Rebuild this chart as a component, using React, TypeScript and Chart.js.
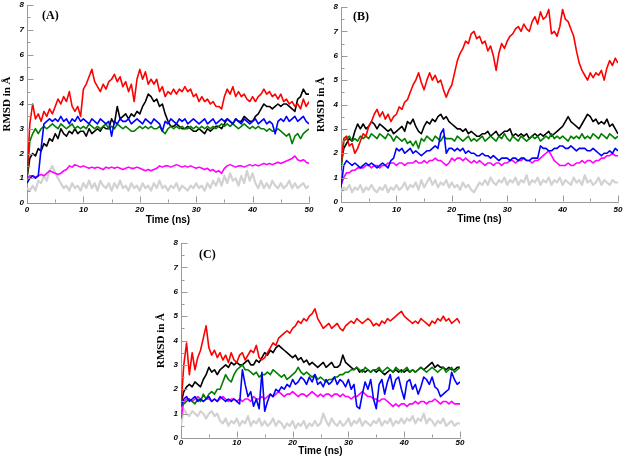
import React, { useEffect, useRef } from 'react';
import { Chart, registerables } from 'chart.js';

Chart.register(...registerables);

// Sampling grid (ns)
const TIME_NS = [
  0, 0.5, 1, 1.5, 2, 2.5, 3, 3.5, 4, 4.5,
  5, 5.5, 6, 6.5, 7, 7.5, 8, 8.5, 9, 9.5,
  10, 10.5, 11, 11.5, 12, 12.5, 13, 13.5, 14, 14.5,
  15, 15.5, 16, 16.5, 17, 17.5, 18, 18.5, 19, 19.5,
  20, 20.5, 21, 21.5, 22, 22.5, 23, 23.5, 24, 24.5,
  25, 25.5, 26, 26.5, 27, 27.5, 28, 28.5, 29, 29.5,
  30, 30.5, 31, 31.5, 32, 32.5, 33, 33.5, 34, 34.5,
  35, 35.5, 36, 36.5, 37, 37.5, 38, 38.5, 39, 39.5,
  40, 40.5, 41, 41.5, 42, 42.5, 43, 43.5, 44, 44.5,
  45, 45.5, 46, 46.5, 47, 47.5, 48, 48.5, 49, 49.5,
  50,
];

const X_MAJOR = [0, 10, 20, 30, 40, 50];
const X_MINOR = [5, 15, 25, 35, 45];
const Y_MAJOR = [0, 1, 2, 3, 4, 5, 6, 7, 8];
const Y_MINOR = [0.5, 1.5, 2.5, 3.5, 4.5, 5.5, 6.5, 7.5];

// ---------- Panel A ----------
const A_RED = [
  1.0, 3.2, 4.0, 3.4, 3.6, 3.3, 3.7, 3.5, 3.8, 3.6,
  3.9, 4.2, 4.0, 4.3, 4.1, 4.5, 3.9, 3.7, 3.9, 3.5,
  4.6, 4.8, 5.1, 5.4, 4.9, 4.7, 4.5, 4.8, 4.6, 4.9,
  5.0, 5.2, 4.9, 5.1, 4.7, 4.9, 4.5, 4.8, 4.1, 5.0,
  5.4, 5.0, 5.3, 4.8, 5.0, 4.8, 5.0, 4.5, 4.7, 4.3,
  4.5, 4.4, 4.6, 4.4, 4.6, 4.5, 4.7, 4.5, 4.6, 4.3,
  4.4, 4.1, 4.3, 4.1, 4.2, 4.0, 4.1, 3.9, 3.9, 3.8,
  4.3, 4.6, 4.4, 4.7, 4.3, 4.5, 4.3, 4.4, 4.2, 4.1,
  4.3, 4.1, 4.3, 4.4, 4.6, 4.4, 4.5, 4.3, 4.4, 4.2,
  4.4, 4.1, 4.2, 4.0, 4.1, 3.9, 4.0, 3.8, 4.2, 3.9,
  4.1,
];
const A_BLACK = [
  1.0, 1.8, 2.0, 1.9, 2.2, 2.1, 2.4, 2.3, 2.6, 2.5,
  2.8, 2.6, 3.0, 2.8, 2.7, 2.9, 2.8, 3.0, 2.8, 2.9,
  2.9, 2.7, 3.0, 2.8, 2.9, 3.0, 2.9, 3.1, 3.0, 3.0,
  3.4, 3.2, 3.9, 3.4, 3.5, 3.6, 3.4, 3.6, 3.5, 3.7,
  3.6, 3.9, 4.1, 4.4, 4.3, 4.1, 4.2, 3.9, 4.0, 3.6,
  3.3, 3.1, 3.1, 3.2, 3.1, 3.0, 3.0, 3.1, 3.0, 2.9,
  2.9, 3.0, 2.9, 2.8, 3.0, 2.9, 3.0, 3.1, 3.1, 3.0,
  3.2, 3.4, 3.3, 3.2, 3.4, 3.3, 3.3, 3.5, 3.4, 3.3,
  3.3, 3.5, 3.6, 3.8, 4.0, 3.9, 3.9, 3.8, 3.9, 4.0,
  3.9, 4.0, 4.0, 3.9, 3.8, 3.7, 4.2, 4.3, 4.6, 4.4,
  4.4,
];
const A_BLUE = [
  0.8, 1.0, 1.1, 1.0, 1.1, 2.2, 3.2, 3.3, 3.4, 3.3,
  3.4, 3.3, 3.5, 3.3, 3.4, 3.2, 3.4, 3.3, 3.5, 3.3,
  3.4, 3.3, 3.2, 3.4, 3.3, 3.2, 3.4, 3.3, 3.2, 3.3,
  2.7, 3.3, 3.2, 3.4, 3.3, 3.3, 3.4, 3.2, 3.3, 3.4,
  3.3, 3.2, 3.4, 3.3, 3.2, 3.4, 3.3, 3.2, 2.9, 3.3,
  3.2, 3.4, 3.3, 3.2, 3.4, 3.3, 3.4, 3.2, 3.3, 3.4,
  3.3, 3.2, 3.3, 3.4, 3.2, 3.3, 3.4, 3.2, 3.3, 3.4,
  3.3, 3.4, 3.3, 3.2, 3.4, 3.3, 3.2, 3.4, 3.3, 3.2,
  3.3, 3.4, 3.2, 3.3, 3.4, 3.2, 3.3, 3.2, 2.8, 3.3,
  3.4, 3.3, 3.5, 3.3, 3.4, 3.5, 3.3, 3.4, 3.5, 3.3,
  3.2,
];
const A_GREEN = [
  1.0, 2.5, 2.8, 3.0, 2.8, 3.0, 3.1, 3.0, 3.1, 3.2,
  3.1, 3.0, 3.2, 3.1, 3.0, 3.1, 3.2, 3.0, 3.1, 3.0,
  3.1, 3.0, 3.2, 3.1, 3.0, 3.1, 3.0, 3.1, 3.2, 3.0,
  3.1, 3.0, 3.2, 3.1, 3.0, 3.1, 3.0, 2.9, 2.9, 3.0,
  3.1, 3.0, 3.1, 3.0, 3.1, 3.0, 3.0, 3.1, 2.9, 2.8,
  3.0, 3.1, 3.0, 3.1, 3.0, 3.1, 3.0, 3.0, 3.1, 3.0,
  3.1, 3.0, 3.1, 3.0, 3.1, 3.0, 3.1, 3.0, 3.1, 3.2,
  3.1, 3.2, 3.1, 3.2, 3.1, 3.0, 3.1, 3.2, 3.1, 3.0,
  3.1, 3.0, 3.1, 3.0, 3.0, 2.9, 3.0, 2.9, 2.9, 3.0,
  2.9, 2.8, 2.7, 2.8, 2.4, 2.7, 2.8, 2.6, 2.8, 2.9,
  3.0,
];
const A_MAGENTA = [
  1.0, 1.1, 1.1, 1.05, 1.1, 1.15, 1.1, 1.2, 1.3, 1.25,
  1.2, 1.15, 1.2, 1.3, 1.35, 1.5, 1.45, 1.55, 1.5, 1.45,
  1.5, 1.45, 1.4, 1.45, 1.4, 1.45, 1.4, 1.35, 1.45, 1.4,
  1.45, 1.4, 1.45, 1.4, 1.35, 1.4, 1.45, 1.4, 1.4, 1.45,
  1.4, 1.35, 1.3, 1.35, 1.3, 1.35, 1.4, 1.5, 1.45, 1.5,
  1.5, 1.45, 1.5, 1.55, 1.5, 1.45, 1.5, 1.45, 1.5, 1.45,
  1.4, 1.45, 1.4, 1.35, 1.4, 1.3, 1.35, 1.25, 1.3, 1.2,
  1.4, 1.5, 1.55, 1.5, 1.45, 1.5, 1.5, 1.45, 1.5, 1.55,
  1.5, 1.55, 1.5, 1.55, 1.6, 1.55, 1.6, 1.55, 1.6, 1.65,
  1.6, 1.65, 1.7, 1.75, 1.8, 1.9, 1.75, 1.7, 1.75, 1.65,
  1.6,
];
const A_GREY = [
  0.6, 0.5, 0.7, 0.5, 0.9, 0.8, 1.1, 0.9, 1.3, 1.5,
  1.2, 1.0, 0.8, 0.6, 0.7, 0.5, 0.8, 0.6, 0.7, 0.5,
  0.8, 0.6, 0.9, 0.6, 0.8, 0.5, 0.9, 0.7, 0.6, 0.8,
  0.5, 0.8, 0.6, 0.9, 0.6, 0.7, 0.5, 0.8, 0.6, 0.7,
  0.5, 0.8, 0.6, 0.7, 0.5, 0.8, 0.6, 0.9, 0.6, 0.7,
  0.5, 0.7, 0.6, 0.8, 0.5, 0.7, 0.6, 0.5, 0.7, 0.6,
  0.8, 0.6, 0.7, 0.5, 0.8, 0.6, 0.9, 0.7, 1.0, 0.7,
  1.1, 0.8, 1.2, 0.9, 1.0, 0.7, 1.1, 0.8, 1.3, 0.9,
  1.2, 0.8, 0.6, 0.9, 0.6, 0.8, 0.6, 0.9, 0.7, 0.6,
  0.8, 0.6, 0.7, 0.9, 0.6, 0.8, 0.6, 0.7, 0.8, 0.6,
  0.7,
];

// ---------- Panel B ----------
const B_RED = [
  1.5, 2.6, 2.7, 2.3, 2.4, 2.0, 2.2, 2.5, 2.8, 2.7,
  3.1, 3.3, 3.6, 3.8, 3.5, 3.7, 3.4, 3.6, 3.3, 3.5,
  3.6, 3.9, 3.8, 4.1, 4.2, 4.5, 4.8, 5.0, 5.3, 4.9,
  4.6, 5.0, 5.3, 5.0, 5.2, 4.9, 5.0, 4.6, 4.3, 4.6,
  4.8, 5.3, 5.8, 6.1, 6.3, 6.6, 6.5, 6.9, 7.0, 6.7,
  6.8, 6.5, 6.6, 6.2, 6.4, 6.0, 5.4, 6.1, 6.5, 6.3,
  6.6, 6.8, 6.9, 7.1, 7.2, 7.0, 7.3, 7.1, 7.0, 7.4,
  7.6, 7.3, 7.8, 7.5, 7.6, 7.9, 6.9, 7.0, 6.8, 7.2,
  7.9, 7.5, 7.4, 7.1, 6.8, 6.2, 5.7, 5.4, 5.2, 5.0,
  5.3, 5.1, 5.3, 5.2, 5.4, 5.0, 5.5, 5.8, 5.6, 5.9,
  5.7,
];
const B_BLACK = [
  1.5, 2.2, 2.4, 2.6, 2.5, 2.9, 3.2, 3.0, 3.2, 3.0,
  3.1, 3.3, 3.2, 3.0, 3.2, 3.1, 3.0, 2.9, 3.0, 2.8,
  2.9, 3.0, 3.1, 2.9, 3.3, 3.2, 3.4, 3.1, 2.9, 2.8,
  3.1, 3.3, 3.2, 3.4, 3.3, 3.5, 3.6, 3.4, 3.5, 3.3,
  3.2, 3.1, 3.0, 3.0, 2.9, 3.0, 2.8, 2.9, 2.8, 2.7,
  2.7, 2.8, 2.8, 2.9, 2.7, 2.8, 2.9, 2.7, 2.8, 2.9,
  2.9, 3.0, 2.7, 2.8, 2.7, 2.8, 2.7, 2.8, 2.6, 2.7,
  2.8, 2.7, 2.8, 2.7, 2.8, 2.9, 2.7, 2.8, 2.9, 3.0,
  3.1, 3.3, 3.5, 3.3, 3.2, 3.1, 3.0, 3.2, 3.4, 3.6,
  3.5, 3.3, 3.4, 3.2, 3.3, 3.2, 3.4, 3.1, 3.2, 3.0,
  2.8,
];
const B_BLUE = [
  0.6, 1.5, 1.7, 1.6, 1.5, 1.6, 1.5, 1.4, 1.5, 1.6,
  1.5, 1.6, 1.5, 1.4, 1.5, 1.6, 1.5, 1.4, 1.7, 1.8,
  2.2, 2.1, 2.2, 2.0, 2.1, 2.2, 2.0, 2.1, 2.0, 1.9,
  2.0, 2.1, 2.1, 2.2, 2.3, 2.2, 2.8, 3.0, 2.0, 2.2,
  2.2, 2.1, 2.2, 2.1, 2.2, 2.0, 2.1, 2.0, 2.0, 1.9,
  1.9, 2.0, 1.9, 1.9, 1.8, 1.9, 1.8, 1.7, 1.8, 1.8,
  1.8, 1.7, 1.8, 1.8, 1.7, 1.8, 1.8, 1.7, 1.7, 1.8,
  1.8, 1.8, 2.3, 2.2, 2.2, 2.1, 2.1, 2.2, 2.2, 2.3,
  2.3, 2.2, 2.2, 2.3, 2.2, 2.1, 2.2, 2.2, 2.2, 2.1,
  2.1, 2.2, 2.1, 2.0, 1.9, 2.0, 2.0, 2.1, 2.0, 2.2,
  2.1,
];
const B_GREEN = [
  1.3, 2.5, 2.6, 2.7, 2.5, 2.6, 2.5, 2.7, 2.6, 2.7,
  2.6, 2.8, 2.7, 2.6, 2.8, 2.7, 2.6, 2.8, 2.7, 2.5,
  2.7, 2.6, 2.5, 2.6, 2.4, 2.5, 2.3, 2.5, 2.2, 2.6,
  2.5, 2.7, 2.6, 2.5, 2.7, 2.6, 2.5, 2.7, 2.6, 2.6,
  2.6, 2.5, 2.7, 2.6, 2.5, 2.6, 2.7, 2.5, 2.6, 2.5,
  2.6, 2.7, 2.5, 2.6, 2.7, 2.6, 2.5, 2.7, 2.6, 2.8,
  2.6, 2.5, 2.7, 2.6, 2.5, 2.7, 2.6, 2.5, 2.6, 2.7,
  2.6, 2.7, 2.5, 2.6, 2.7, 2.6, 2.8, 2.6, 2.7, 2.6,
  2.7, 2.6, 2.5, 2.7, 2.6, 2.7, 2.6, 2.8, 2.6, 2.7,
  2.6, 2.8, 2.7, 2.6, 2.8, 2.7, 2.6, 2.8, 2.7, 2.6,
  2.7,
];
const B_MAGENTA = [
  0.7, 1.0, 1.2, 1.2, 1.3, 1.3, 1.4, 1.4, 1.4, 1.5,
  1.5, 1.4, 1.5, 1.5, 1.4, 1.5, 1.5, 1.6, 1.6, 1.6,
  1.5, 1.6, 1.6, 1.5, 1.6, 1.6, 1.6, 1.7, 1.6, 1.6,
  1.7, 1.6, 1.7, 1.7, 1.8, 1.7, 1.7, 1.6, 1.5, 1.6,
  1.8, 1.7, 1.8, 1.8, 1.7, 1.8, 1.7, 1.6, 1.7, 1.6,
  1.7, 1.6, 1.5, 1.6, 1.6, 1.5, 1.6, 1.6, 1.5, 1.6,
  1.6, 1.7, 1.7, 1.6, 1.7, 1.7, 1.8, 1.7, 1.7, 1.6,
  1.7, 1.7, 1.8, 1.9, 2.0, 2.1, 1.9, 1.7, 1.6, 1.5,
  1.5, 1.5, 1.6, 1.5, 1.5, 1.6, 1.6, 1.7, 1.6, 1.7,
  1.7, 1.6, 1.7, 1.7, 1.8, 1.8, 1.9, 1.9, 2.0, 1.9,
  1.9,
];
const B_GREY = [
  0.4, 0.6, 0.5, 0.7, 0.4, 0.6, 0.5, 0.7, 0.4, 0.6,
  0.5, 0.7, 0.5, 0.4, 0.6, 0.5, 0.7, 0.4, 0.6, 0.5,
  0.7, 0.5, 0.6, 0.8, 0.5, 0.7, 0.6, 0.8, 0.5, 0.9,
  0.6, 0.8, 1.0, 0.7, 0.9, 0.6, 0.8, 0.7, 0.9, 0.6,
  0.8, 0.6, 0.7, 0.5, 0.8, 0.6, 0.7, 0.5, 0.4, 0.6,
  0.8, 0.7, 0.9, 0.7, 1.0, 0.8, 0.7, 0.9, 0.8, 1.0,
  0.7, 0.9, 0.8, 1.0, 0.7, 0.9, 0.8, 1.1, 0.7, 0.9,
  0.8, 1.0, 0.7, 0.9, 0.8, 1.0, 0.7, 0.9, 0.8, 1.0,
  0.7, 0.9, 0.8, 0.7, 1.0, 0.8, 0.9, 0.7, 1.1, 0.8,
  0.9, 0.7, 0.8, 1.0, 0.7, 0.9, 0.8, 0.7, 0.9, 0.8,
  0.8,
];

// ---------- Panel C ----------
const C_RED = [
  1.3, 3.0, 3.9, 2.6, 3.5, 2.8, 3.3, 3.6, 4.1, 4.6,
  3.7, 3.4, 3.6, 3.3, 3.5, 3.2, 3.4, 3.1, 3.5, 3.2,
  3.1, 3.4, 3.5, 3.2, 3.4, 3.6, 3.5, 3.8, 3.3, 3.2,
  3.3, 3.5, 3.7, 3.9, 3.8, 4.1, 4.2, 4.3, 4.4, 4.3,
  4.5, 4.6, 4.8, 4.7, 4.9, 4.8, 5.0, 5.1, 5.3, 4.9,
  4.7, 4.5, 4.6, 4.7, 4.5, 4.6, 4.7, 4.5, 4.4, 4.6,
  4.7, 4.8, 4.7, 4.9, 4.8, 4.7, 4.8, 4.9, 4.8, 4.6,
  4.7, 4.6, 4.8, 4.7, 4.9, 4.8, 4.9, 5.0, 5.1, 5.2,
  5.0, 4.9, 4.8, 4.7, 4.8, 4.7, 4.9, 4.8, 4.7, 4.6,
  4.8, 4.7, 4.9, 4.8, 5.0, 4.8, 4.9, 4.7, 4.8, 4.9,
  4.7,
];
const C_BLACK = [
  1.4, 1.9, 2.1, 2.2, 2.1, 2.3, 2.2, 2.1, 2.4, 2.6,
  2.9, 2.7, 2.8, 2.6, 2.8, 2.9, 3.0, 2.9, 3.1, 3.0,
  3.1, 3.0, 3.0, 3.1, 3.2, 3.0, 3.0, 3.2, 3.1, 3.3,
  3.5, 3.4, 3.6, 3.5, 3.7, 3.8, 3.7, 3.6, 3.5, 3.4,
  3.3, 3.4, 3.2, 3.3, 3.1, 3.2, 3.0, 3.1, 3.0, 2.9,
  3.0, 3.1, 2.9, 3.0, 3.1, 2.9, 2.9, 3.0, 3.4, 3.1,
  3.0, 2.9, 2.8, 2.9, 2.7, 2.8, 2.7, 2.8, 2.7, 2.8,
  2.7, 2.8, 2.7, 2.6, 2.7, 2.8, 2.7, 2.8, 2.7, 2.8,
  2.7, 2.8, 2.7, 2.8, 2.7, 2.8, 2.9, 2.8, 2.9, 3.0,
  3.1, 2.9, 3.0, 2.9, 2.9, 2.8, 2.9, 2.8, 2.8, 2.9,
  2.9,
];
const C_BLUE = [
  1.3, 1.6, 1.7, 1.5, 1.6, 1.7, 1.5, 1.6, 1.5, 1.6,
  1.7, 1.5, 1.6, 1.5, 1.7, 1.6, 1.5, 1.6, 1.5, 1.6,
  1.5, 1.4, 2.8, 2.2, 1.7, 1.9, 1.3, 1.6, 1.2, 2.7,
  1.1, 1.5, 1.8, 1.7, 2.0, 1.9, 2.1, 2.0, 2.2, 2.1,
  2.4, 2.2, 2.3, 2.5, 2.4, 2.2, 2.5, 2.3, 2.6, 2.2,
  2.3, 2.1, 2.4, 2.2, 2.3, 2.5, 2.2, 2.4, 2.3, 2.1,
  2.4, 2.0, 2.2, 1.3, 1.2, 1.8, 2.3, 2.0, 2.4, 1.6,
  1.2, 2.2, 2.4, 1.8, 2.3, 2.6, 2.0, 2.4, 2.5, 2.0,
  1.6, 2.3, 2.4, 2.0, 2.2, 1.8, 2.1, 2.5, 2.4, 2.2,
  2.5, 2.1, 2.0, 1.7, 1.8, 1.9, 2.0, 2.7, 2.4, 2.2,
  2.3,
];
const C_GREEN = [
  1.3, 1.4, 1.5, 1.6, 1.5, 1.4, 1.6, 1.5, 1.8, 1.6,
  1.8, 1.9, 1.8, 2.0, 2.0, 2.3, 2.6, 2.4, 2.3, 2.6,
  2.8, 2.9, 3.0, 2.8, 2.8, 2.7, 2.6, 2.7, 2.5, 2.6,
  2.6, 2.7, 2.6, 2.8, 2.7, 2.6, 2.5, 2.6, 2.4, 2.5,
  2.6, 2.7, 2.9, 2.7, 2.6, 2.7, 2.6, 2.5, 2.6, 2.4,
  2.5, 2.4, 2.3, 2.4, 2.4, 2.5, 2.5, 2.6, 2.6, 2.7,
  2.7, 2.8, 2.8, 2.9, 2.8, 2.7, 2.9, 2.8, 2.7, 2.8,
  2.8, 2.9, 2.7, 2.8, 2.9, 2.8, 2.7, 2.9, 2.8, 2.7,
  2.8, 2.9, 2.7, 2.8, 2.7, 2.8, 2.9, 2.8, 2.7, 2.8,
  2.9, 2.8, 2.7, 2.8, 2.9, 2.7, 2.8, 2.9, 2.7, 2.8,
  2.9,
];
const C_MAGENTA = [
  0.8, 1.5, 1.6, 1.6, 1.5, 1.6, 1.7, 1.6, 1.5, 1.6,
  1.6, 1.5, 1.6, 1.5, 1.6, 1.7, 1.6, 1.5, 1.6, 1.6,
  1.5, 1.6, 1.5, 1.6, 1.6, 1.5, 1.7, 1.6, 1.6, 1.7,
  1.6, 1.7, 1.8, 1.7, 1.8, 1.9, 1.8, 1.7, 1.8, 1.8,
  1.9, 1.8, 1.7, 1.8, 1.8, 1.7, 1.8, 1.9, 1.8, 1.7,
  1.8, 1.7, 1.8, 1.8, 1.7, 1.8, 1.8, 1.7, 1.8, 1.7,
  1.7, 1.6, 1.7, 1.7, 1.8, 1.9, 1.8, 1.7, 1.7, 1.6,
  1.6, 1.5, 1.6, 1.6, 1.5, 1.4, 1.3, 1.4, 1.3, 1.4,
  1.4, 1.3, 1.4, 1.4, 1.5, 1.4, 1.5, 1.5, 1.4, 1.5,
  1.5, 1.6, 1.5, 1.4, 1.5, 1.5, 1.4, 1.5, 1.4, 1.4,
  1.4,
];
const C_GREY = [
  0.5, 1.2, 1.0, 0.9, 1.1, 1.0, 0.9, 1.1, 1.0, 0.8,
  1.0, 1.1, 0.9, 1.0, 0.7, 0.6, 0.8, 0.5, 0.7, 0.6,
  0.8, 0.5, 0.7, 0.6, 0.9, 0.5, 0.7, 0.6, 0.8, 0.5,
  0.7, 0.5, 0.6, 0.8, 0.5, 0.7, 0.6, 0.4, 0.6, 0.5,
  0.7, 0.4, 0.6, 0.5, 0.7, 0.4, 0.6, 0.5, 0.7, 0.5,
  0.6, 1.0, 0.7, 0.5, 0.8, 0.6, 0.5, 0.7, 0.5, 0.6,
  0.8, 0.5, 0.7, 0.6, 0.8, 0.5, 0.7, 0.6, 0.5, 0.7,
  0.6, 0.8, 0.5, 0.7, 0.6, 0.8, 0.5, 0.7, 0.6, 0.8,
  0.6, 0.8, 0.7, 0.9, 0.6, 0.8, 0.7, 1.0, 0.6, 0.8,
  0.7, 0.5, 0.7, 0.6, 0.8, 0.5, 0.6, 0.7, 0.5, 0.6,
  0.6,
];

const COLOR_RED = '#ff0000';
const COLOR_BLACK = '#000000';
const COLOR_BLUE = '#0000ff';
const COLOR_GREEN = '#008000';
const COLOR_MAGENTA = '#ff00ff';
const COLOR_GREY = '#d2d2d2';
const AXIS_COLOR = '#9a9a9a';

type Area = { left: number; top: number; right: number; bottom: number };
type PanelSpec = {
  key: string;
  label: string;
  labelPos: { left: number; top: number };
  area: Area;
  tickPad: number;
  titlePadBottom: number;
  series: { color: string; values: number[]; width: number }[];
};

const LINE_W = 1.6;
const GREY_W = 2.2;

const PANELS: PanelSpec[] = [
  {
    key: 'A',
    label: '(A)',
    labelPos: { left: 42, top: 8 },
    area: { left: 27, top: 5, right: 309, bottom: 203 },
    tickPad: 2,
    titlePadBottom: 7,
    series: [
      { color: COLOR_RED, values: A_RED, width: LINE_W },
      { color: COLOR_BLUE, values: A_BLUE, width: LINE_W },
      { color: COLOR_GREEN, values: A_GREEN, width: LINE_W },
      { color: COLOR_BLACK, values: A_BLACK, width: LINE_W },
      { color: COLOR_MAGENTA, values: A_MAGENTA, width: LINE_W },
      { color: COLOR_GREY, values: A_GREY, width: GREY_W },
    ],
  },
  {
    key: 'B',
    label: '(B)',
    labelPos: { left: 353, top: 9 },
    area: { left: 341, top: 7, right: 618, bottom: 202 },
    tickPad: 3,
    titlePadBottom: 7,
    series: [
      { color: COLOR_RED, values: B_RED, width: LINE_W },
      { color: COLOR_BLUE, values: B_BLUE, width: LINE_W },
      { color: COLOR_GREEN, values: B_GREEN, width: LINE_W },
      { color: COLOR_BLACK, values: B_BLACK, width: LINE_W },
      { color: COLOR_MAGENTA, values: B_MAGENTA, width: LINE_W },
      { color: COLOR_GREY, values: B_GREY, width: GREY_W },
    ],
  },
  {
    key: 'C',
    label: '(C)',
    labelPos: { left: 199, top: 247 },
    area: { left: 181, top: 243, right: 460, bottom: 438 },
    tickPad: 0,
    titlePadBottom: 11,
    series: [
      { color: COLOR_RED, values: C_RED, width: LINE_W },
      { color: COLOR_BLUE, values: C_BLUE, width: LINE_W },
      { color: COLOR_GREEN, values: C_GREEN, width: LINE_W },
      { color: COLOR_BLACK, values: C_BLACK, width: LINE_W },
      { color: COLOR_MAGENTA, values: C_MAGENTA, width: LINE_W },
      { color: COLOR_GREY, values: C_GREY, width: GREY_W },
    ],
  },
];

const Y_AXIS_W = 40;
const X_AXIS_H = 30;
const PAD_TOP = 15;
const PAD_RIGHT = 20;

const inwardTicks = {
  id: 'inwardTicks',
  afterDatasetsDraw(chart: any) {
    const { ctx, scales } = chart;
    const xs = scales.x;
    const ys = scales.y;
    const x0 = Math.round(xs.left) + 0.5;
    const y0 = Math.round(ys.bottom) - 0.5;
    ctx.save();
    ctx.strokeStyle = AXIS_COLOR;
    ctx.lineWidth = 1;
    ctx.beginPath();
    Y_MAJOR.forEach((v) => {
      const p = Math.round(ys.getPixelForValue(v)) + 0.5;
      ctx.moveTo(x0, p);
      ctx.lineTo(x0 + 6, p);
    });
    Y_MINOR.forEach((v) => {
      const p = Math.round(ys.getPixelForValue(v)) + 0.5;
      ctx.moveTo(x0, p);
      ctx.lineTo(x0 + 3, p);
    });
    X_MAJOR.forEach((v) => {
      const p = Math.round(xs.getPixelForValue(v)) + 0.5;
      ctx.moveTo(p, y0);
      ctx.lineTo(p, y0 - 6);
    });
    X_MINOR.forEach((v) => {
      const p = Math.round(xs.getPixelForValue(v)) + 0.5;
      ctx.moveTo(p, y0);
      ctx.lineTo(p, y0 - 3);
    });
    ctx.stroke();
    ctx.restore();
  },
};

const TICK_FONT = { family: "'Liberation Sans', Arial, sans-serif", size: 8, style: 'italic' as const, weight: 'bold' as const };

function Panel({ spec }: { spec: PanelSpec }) {
  const ref = useRef<HTMLCanvasElement>(null);
  const { area } = spec;
  const width = area.right - area.left + Y_AXIS_W + PAD_RIGHT;
  const height = area.bottom - area.top + PAD_TOP + X_AXIS_H;
  const left = area.left - Y_AXIS_W;
  const top = area.top - PAD_TOP;

  useEffect(() => {
    if (!ref.current) return;
    const chart = new Chart(ref.current, {
      type: 'line',
      data: {
        datasets: spec.series.map((s) => ({
          data: TIME_NS.map((t, i) => ({ x: t, y: s.values[i] })),
          borderColor: s.color,
          backgroundColor: s.color,
          borderWidth: s.width,
          borderJoinStyle: 'round' as const,
          pointRadius: 0,
          tension: 0,
          fill: false,
        })),
      },
      options: {
        animation: false,
        responsive: false,
        maintainAspectRatio: false,
        events: [],
        layout: { padding: { left: 0, top: PAD_TOP, right: PAD_RIGHT, bottom: 0 } },
        plugins: { legend: { display: false }, tooltip: { enabled: false }, title: { display: false } },
        scales: {
          x: {
            type: 'linear',
            min: 0,
            max: 50,
            afterFit: (scale: any) => {
              scale.height = X_AXIS_H;
            },
            afterBuildTicks: (scale: any) => {
              scale.ticks = X_MAJOR.map((v) => ({ value: v }));
            },
            grid: { display: false, drawTicks: false },
            border: { display: true, color: AXIS_COLOR, width: 1 },
            ticks: {
              color: '#000',
              font: TICK_FONT,
              padding: spec.tickPad,
              maxRotation: 0,
              autoSkip: false,
              callback: (v: any) => String(v),
            },
            title: {
              display: true,
              text: 'Time (ns)',
              color: '#000',
              font: { family: "'Liberation Sans', Arial, sans-serif", size: 10, weight: 'bold' },
              padding: { top: 0, bottom: spec.titlePadBottom },
            },
          },
          y: {
            type: 'linear',
            min: 0,
            max: 8,
            afterFit: (scale: any) => {
              scale.width = Y_AXIS_W;
            },
            afterBuildTicks: (scale: any) => {
              scale.ticks = Y_MAJOR.map((v) => ({ value: v }));
            },
            grid: { display: false, drawTicks: false },
            border: { display: true, color: AXIS_COLOR, width: 1 },
            ticks: {
              color: '#000',
              font: TICK_FONT,
              padding: 3,
              autoSkip: false,
              callback: (v: any) => String(v),
            },
            title: {
              display: true,
              text: 'RMSD in Å',
              color: '#000',
              font: { family: "'Liberation Serif', 'Times New Roman', serif", size: 11, weight: 'bold' },
              padding: { top: 13.4, bottom: 0 },
            },
          },
        },
      },
      plugins: [inwardTicks],
    });
    return () => chart.destroy();
  }, [spec]);

  return (
    <>
      <canvas
        ref={ref}
        width={width}
        height={height}
        style={{ position: 'absolute', left, top, width, height }}
      />
      <div
        style={{
          position: 'absolute',
          left: spec.labelPos.left,
          top: spec.labelPos.top,
          font: "bold 12px 'Liberation Serif', 'Times New Roman', serif",
          lineHeight: '14px',
          color: '#000',
          whiteSpace: 'nowrap',
        }}
      >
        {spec.label}
      </div>
    </>
  );
}

export default function App() {
  return (
    <div
      style={{
        position: 'fixed',
        left: 0,
        top: 0,
        width: 625,
        height: 461,
        overflow: 'hidden',
        background: '#fff',
      }}
    >
      {PANELS.map((p) => (
        <Panel key={p.key} spec={p} />
      ))}
    </div>
  );
}
